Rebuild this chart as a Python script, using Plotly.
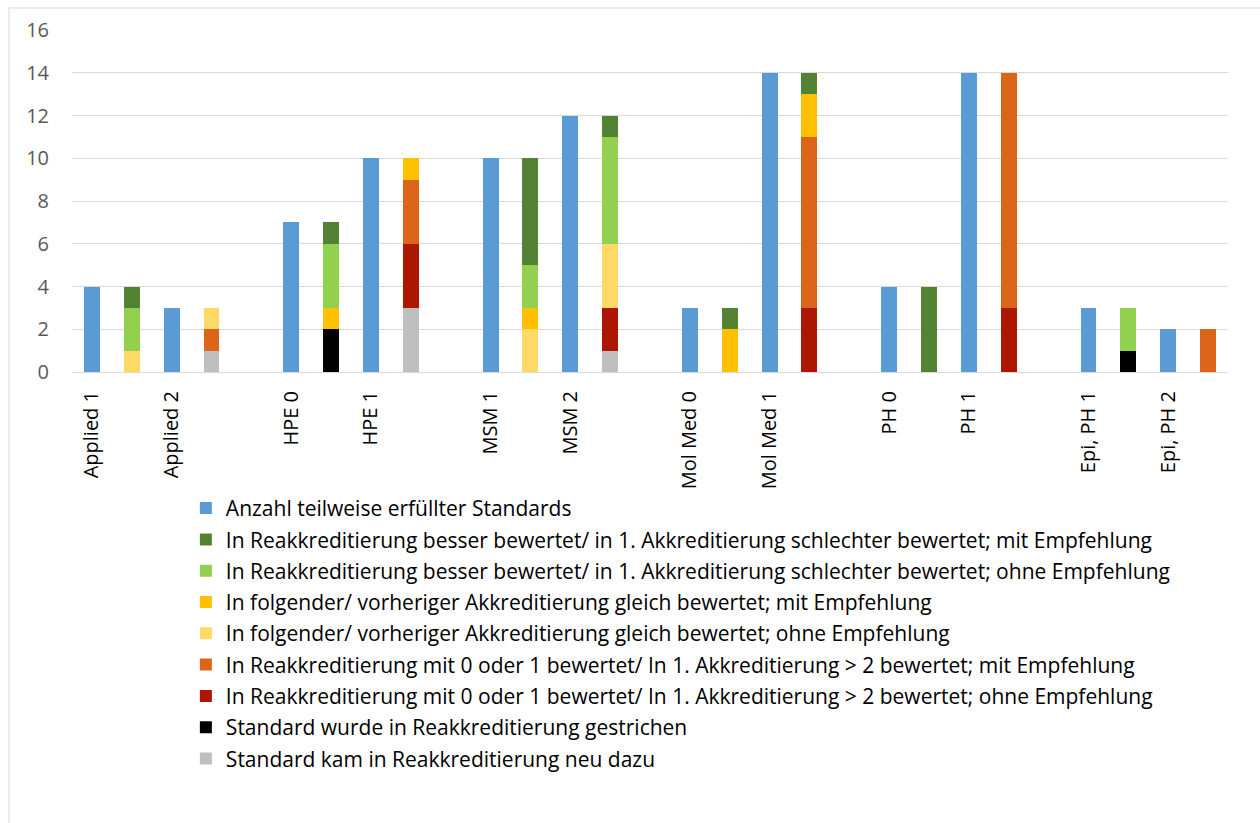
import plotly.graph_objects as go

# Study programmes: first accreditation count plus the breakdown after re-accreditation
labels = ["Applied 1", "Applied 2", "HPE 0", "HPE 1", "MSM 1", "MSM 2",
          "Mol Med 0", "Mol Med 1", "PH 0", "PH 1", "Epi, PH 1", "Epi, PH 2"]
programmes = [2, 2, 2, 2, 2, 2]  # labels per programme group

partially_met = [4, 3, 7, 10, 10, 12, 3, 14, 4, 14, 3, 2]

dark_green = [1, 0, 1, 0, 5, 1, 1, 1, 4, 0, 0, 0]
light_green = [2, 0, 3, 0, 2, 5, 0, 0, 0, 0, 2, 0]
gold = [0, 0, 1, 1, 1, 0, 2, 2, 0, 0, 0, 0]
light_yellow = [1, 1, 0, 0, 2, 3, 0, 0, 0, 0, 0, 0]
orange = [0, 1, 0, 3, 0, 0, 0, 8, 0, 11, 0, 2]
dark_red = [0, 0, 0, 3, 0, 2, 0, 3, 0, 3, 0, 0]
black = [0, 0, 2, 0, 0, 0, 0, 0, 0, 0, 1, 0]
gray = [0, 1, 0, 3, 0, 1, 0, 0, 0, 0, 0, 0]

names = {
    "blue": "Anzahl teilweise erfüllter Standards",
    "dgreen": "In Reakkreditierung besser bewertet/ in 1. Akkreditierung schlechter bewertet; mit Empfehlung",
    "lgreen": "In Reakkreditierung besser bewertet/ in 1. Akkreditierung schlechter bewertet; ohne Empfehlung",
    "gold": "In folgender/ vorheriger Akkreditierung gleich bewertet; mit Empfehlung",
    "lyellow": "In folgender/ vorheriger Akkreditierung gleich bewertet; ohne Empfehlung",
    "orange": "In Reakkreditierung mit 0 oder 1 bewertet/ In 1. Akkreditierung > 2 bewertet; mit Empfehlung",
    "dred": "In Reakkreditierung mit 0 oder 1 bewertet/ In 1. Akkreditierung > 2 bewertet; ohne Empfehlung",
    "black": "Standard wurde in Reakkreditierung gestrichen",
    "gray": "Standard kam in Reakkreditierung neu dazu",
}

# Category slots: each label, then its breakdown column, with an empty slot between programmes
categories = []
breakdown_slots = []
idx = 0
for g, n in enumerate(programmes):
    for _ in range(n):
        lab = labels[idx]
        categories.append(lab)
        categories.append(lab + "\u200b")
        breakdown_slots.append(lab + "\u200b")
        idx += 1
    if g < len(programmes) - 1:
        categories.append("\u200b" * (g + 2) + " ")

fig = go.Figure()

# stacked bottom to top; legend lists them top to bottom
stack = [
    (gray, "#BFBFBF", names["gray"]),
    (black, "#000000", names["black"]),
    (dark_red, "#AD1600", names["dred"]),
    (orange, "#DD6519", names["orange"]),
    (light_yellow, "#FFD966", names["lyellow"]),
    (gold, "#FFC000", names["gold"]),
    (light_green, "#92D050", names["lgreen"]),
    (dark_green, "#548235", names["dgreen"]),
]
for i, (vals, col, nm) in enumerate(stack):
    fig.add_trace(go.Bar(x=breakdown_slots, y=vals, name=nm, legendgroup=f"g{i}",
                         legendrank=1000 - i,
                         marker=dict(color=col, line=dict(width=0))))

fig.add_trace(go.Bar(x=labels, y=partially_met, name=names["blue"], legendgroup="blue",
                     legendrank=1,
                     marker=dict(color="#5B9BD5", line=dict(width=0))))

fig.update_layout(
    width=1260, height=823,
    barmode="stack", bargap=0.6,
    plot_bgcolor="white", paper_bgcolor="white",
    margin=dict(l=72, r=32, t=30, b=451),
    font=dict(family="Open Sans, sans-serif", size=20, color="#000000"),
    showlegend=True,
    legend=dict(
        traceorder="grouped",
        tracegroupgap=1,
        orientation="v",
        x=0.0985, xanchor="left",
        y=-0.339, yanchor="top",
        font=dict(size=21, color="#000000"),
        bgcolor="rgba(0,0,0,0)",
        itemwidth=30,
    ),
    xaxis=dict(
        type="category",
        categoryorder="array", categoryarray=categories,
        tickmode="array", tickvals=labels, ticktext=labels,
        tickangle=-90,
        tickfont=dict(size=20, color="#000000"),
        showgrid=False, showline=False, ticks="", ticklabelstandoff=14,
    ),
    yaxis=dict(
        range=[0, 16], dtick=2,
        tickfont=dict(size=20, color="#595959"),
        showgrid=True, gridcolor="#D9D9D9", gridwidth=1.3,
        zeroline=True, zerolinecolor="#D9D9D9", zerolinewidth=1.3,
        showline=False, ticks="", ticklabelstandoff=22,
    ),
    shapes=[dict(type="rect", xref="paper", yref="paper",
                 x0=-0.0545, x1=1.04, y0=-1.4, y1=1.0643,
                 line=dict(color="#D9D9D9", width=1), fillcolor="rgba(0,0,0,0)",
                 layer="below")],
)

fig.write_html("out.html")
